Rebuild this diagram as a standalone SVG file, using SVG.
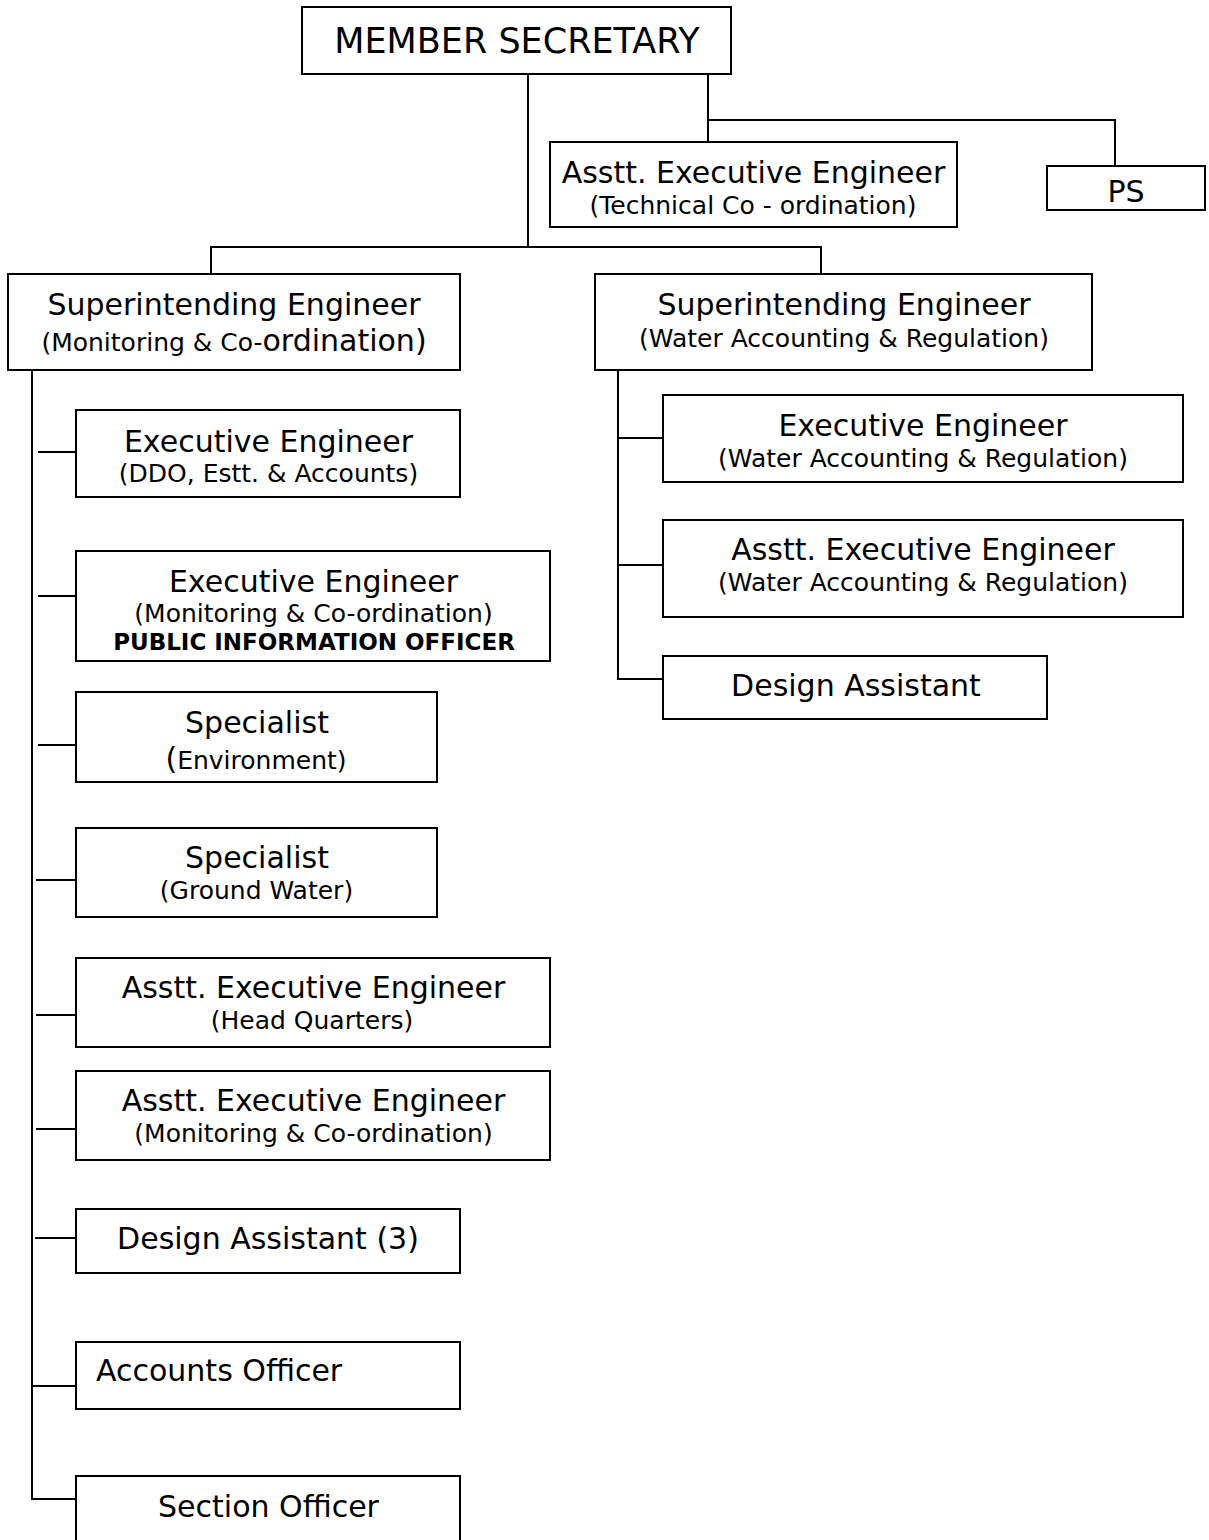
<svg xmlns="http://www.w3.org/2000/svg" width="1209" height="1540" viewBox="0 0 1209 1540">
<style>
rect.box{fill:#fff;stroke:#000;stroke-width:2}
.conn line,.conn polyline{stroke:#000;stroke-width:2;fill:none}
text{font-family:"DejaVu Sans","Verdana",sans-serif;fill:#000;text-anchor:middle}
text.left{text-anchor:start}
.t1{font-size:30px}
.t2{font-size:25px}
.tb{font-size:23px;font-weight:bold}
.ms{font-size:35px}
</style>
<rect width="1209" height="1540" fill="#fff"/>
<g class="conn" id="connectors">
<line x1="528" y1="74" x2="528" y2="247"/>
<polyline points="211,274 211,247 821,247 821,274"/>
<line x1="708" y1="74" x2="708" y2="142"/>
<polyline points="708,120 1115,120 1115,166"/>
<polyline points="32,370 32,1499 76,1499"/>
<line x1="38" y1="452" x2="76" y2="452"/>
<line x1="38" y1="596" x2="76" y2="596"/>
<line x1="38" y1="745" x2="78" y2="745"/>
<line x1="36" y1="880" x2="76" y2="880"/>
<line x1="36" y1="1015" x2="76" y2="1015"/>
<line x1="36" y1="1129" x2="76" y2="1129"/>
<line x1="35" y1="1238" x2="81" y2="1238"/>
<line x1="32" y1="1386" x2="76" y2="1386"/>
<polyline points="618,370 618,679 663,679"/>
<line x1="618" y1="438" x2="663" y2="438"/>
<line x1="618" y1="565" x2="663" y2="565"/>
</g>
<g id="member-secretary"><rect class="box" x="302" y="7" width="429" height="67"/><text class="ms" x="517" y="53">MEMBER SECRETARY</text></g>
<g id="aee-technical"><rect class="box" x="550" y="142" width="407" height="85"/><text class="t1" x="753.5" y="183">Asstt. Executive Engineer</text><text class="t2" x="753" y="214">(Technical Co - ordination)</text></g>
<g id="ps"><rect class="box" x="1047" y="166" width="158" height="44"/><text class="t1" x="1126" y="202">PS</text></g>
<g id="se-monitoring"><rect class="box" x="8" y="274" width="452" height="96"/><text class="t1" x="234" y="315">Superintending Engineer</text><text x="234" y="351"><tspan font-size="25">(Monitoring &amp; Co-</tspan><tspan font-size="30">ordination)</tspan></text></g>
<g id="se-water"><rect class="box" x="595" y="274" width="497" height="96"/><text class="t1" x="844" y="315">Superintending Engineer</text><text class="t2" x="844" y="347">(Water Accounting &amp; Regulation)</text></g>
<g id="ee-ddo"><rect class="box" x="76" y="410" width="384" height="87"/><text class="t1" x="268.5" y="452">Executive Engineer</text><text class="t2" x="268.5" y="482">(DDO, Estt. &amp; Accounts)</text></g>
<g id="ee-monitoring"><rect class="box" x="76" y="551" width="474" height="110"/><text class="t1" x="313.5" y="592">Executive Engineer</text><text class="t2" x="313.5" y="622">(Monitoring &amp; Co-ordination)</text><text class="tb" x="314" y="650">PUBLIC INFORMATION OFFICER</text></g>
<g id="specialist-env"><rect class="box" x="76" y="692" width="361" height="90"/><text class="t1" x="257" y="733">Specialist</text><text x="256" y="769"><tspan font-size="30">(</tspan><tspan font-size="25">Environment)</tspan></text></g>
<g id="specialist-gw"><rect class="box" x="76" y="828" width="361" height="89"/><text class="t1" x="257" y="868">Specialist</text><text class="t2" x="256.5" y="899">(Ground Water)</text></g>
<g id="aee-hq"><rect class="box" x="76" y="958" width="474" height="89"/><text class="t1" x="313.5" y="998">Asstt. Executive Engineer</text><text class="t2" x="312" y="1029">(Head Quarters)</text></g>
<g id="aee-monitoring"><rect class="box" x="76" y="1071" width="474" height="89"/><text class="t1" x="313.5" y="1111">Asstt. Executive Engineer</text><text class="t2" x="313.5" y="1142">(Monitoring &amp; Co-ordination)</text></g>
<g id="design-assistant-3"><rect class="box" x="76" y="1209" width="384" height="64"/><text class="t1" x="268" y="1249">Design Assistant (3)</text></g>
<g id="accounts-officer"><rect class="box" x="76" y="1342" width="384" height="67"/><text class="t1 left" x="96" y="1381">Accounts Officer</text></g>
<g id="section-officer"><rect class="box" x="76" y="1476" width="384" height="80"/><text class="t1" x="268.5" y="1517">Section Officer</text></g>
<g id="ee-water"><rect class="box" x="663" y="395" width="520" height="87"/><text class="t1" x="923" y="436">Executive Engineer</text><text class="t2" x="923" y="467">(Water Accounting &amp; Regulation)</text></g>
<g id="aee-water"><rect class="box" x="663" y="520" width="520" height="97"/><text class="t1" x="923" y="560">Asstt. Executive Engineer</text><text class="t2" x="923" y="591">(Water Accounting &amp; Regulation)</text></g>
<g id="design-assistant"><rect class="box" x="663" y="656" width="384" height="63"/><text class="t1" x="856" y="696">Design Assistant</text></g>
</svg>
